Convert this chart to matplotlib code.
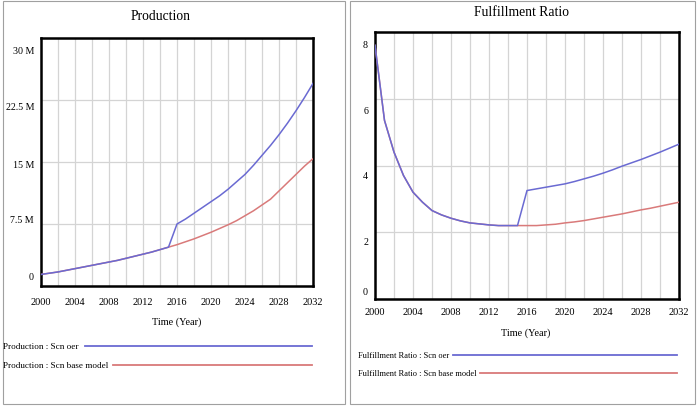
import matplotlib
matplotlib.use("Agg")
import matplotlib.pyplot as plt
from matplotlib.lines import Line2D
from matplotlib.patches import Rectangle

years = list(range(2000, 2033))

# Production (millions)
prod_oer = [1.4, 1.55, 1.7, 1.9, 2.1, 2.3, 2.5, 2.7, 2.9, 3.1, 3.35, 3.6, 3.85, 4.1, 4.4, 4.7,
            7.5, 8.1, 8.8, 9.5, 10.2, 10.9, 11.7, 12.6, 13.5, 14.6, 15.8, 17.0, 18.3, 19.7, 21.2, 22.8, 24.5]
prod_base = [1.4, 1.55, 1.7, 1.9, 2.1, 2.3, 2.5, 2.7, 2.9, 3.1, 3.35, 3.6, 3.85, 4.1, 4.4, 4.7,
             5.0, 5.35, 5.7, 6.1, 6.5, 6.95, 7.4, 7.9, 8.5, 9.1, 9.8, 10.5, 11.5, 12.5, 13.5, 14.5, 15.4]

# Fulfillment ratio
ful_oer = [7.6, 5.35, 4.4, 3.7, 3.2, 2.9, 2.65, 2.52, 2.42, 2.34, 2.28, 2.25, 2.22, 2.2, 2.2, 2.2,
           3.25, 3.3, 3.35, 3.4, 3.45, 3.52, 3.6, 3.68, 3.77, 3.87, 3.98, 4.08, 4.18, 4.29, 4.4, 4.52, 4.64]
ful_base = [7.6, 5.35, 4.4, 3.7, 3.2, 2.9, 2.65, 2.52, 2.42, 2.34, 2.28, 2.25, 2.22, 2.2, 2.2, 2.2,
            2.2, 2.2, 2.22, 2.24, 2.28, 2.31, 2.35, 2.4, 2.45, 2.5, 2.55, 2.61, 2.67, 2.72, 2.78, 2.84, 2.9]

xticks = [2000, 2004, 2008, 2012, 2016, 2020, 2024, 2028, 2032]
prod_yticks = [0, 7.5, 15, 22.5, 30]
prod_ylabels = ["0", "7.5 M", "15 M", "22.5 M", "30 M"]
ful_yticks = [0, 2, 4, 6, 8]
ful_ylabels = ["0", "2", "4", "6", "8"]

BLUE = "#6a6ad2"
RED = "#d97a7a"
FONT = "Liberation Serif"
W, H = 699, 410

plt.rcParams['font.family'] = [FONT, 'DejaVu Serif']
fig = plt.figure(figsize=(6.99, 4.10), dpi=100)


def fx(px):
    return px / W


def fy(py):
    return 1 - py / H


def make_panel(box, xs, s1, s2, yt, ylab, ymax, title, title_xy, lab_pos, xtick_y, xlabel_xy,
               leg, ylab_x, legfs):
    l, t, r, b = box
    ax = fig.add_axes([fx(l), fy(b), fx(r) - fx(l), fy(t) - fy(b)])
    ax.plot(xs, s2, color=RED, lw=1.1, zorder=3)
    ax.plot(xs, s1, color=BLUE, lw=1.1, zorder=4)
    ax.set_xlim(2000, 2032)
    ax.set_ylim(0, ymax)
    ax.set_xticks(list(range(2000, 2033, 2)))
    ax.set_yticks(yt)
    ax.grid(True, color="#d4d4d4", lw=0.9)
    ax.tick_params(length=0, labelbottom=False, labelleft=False)
    for sp in ax.spines.values():
        sp.set_linewidth(1.8)
        sp.set_color("black")
    for lab, py in zip(ylab, lab_pos):
        fig.text(fx(ylab_x), fy(py), lab, ha="right", va="center", fontsize=7.2, family=FONT)
    for xt in xticks:
        xp = l + (xt - 2000) / 32 * (r - l)
        fig.text(fx(xp), fy(xtick_y), str(xt), ha="center", va="center", fontsize=7.4, family=FONT)
    fig.text(fx(title_xy[0]), fy(title_xy[1]), title, ha="center", va="center", fontsize=9.8, family=FONT)
    fig.text(fx(xlabel_xy[0]), fy(xlabel_xy[1]), "Time (Year)", ha="center", va="center", fontsize=7.4, family=FONT)
    for (txt, tx, ty, x0, x1, c) in leg:
        fig.text(fx(tx), fy(ty), txt, ha="left", va="center", fontsize=legfs, family=FONT)
        fig.add_artist(Line2D([fx(x0), fx(x1)], [fy(ty), fy(ty)], color=c, lw=1.3))
    return ax


make_panel((41, 39, 313, 287), years, prod_oer, prod_base, prod_yticks, prod_ylabels, 30,
           "Production", (161, 17), [278, 221, 165, 108, 52], 303, (177, 322),
           [("Production : Scn oer", 3, 347, 85, 312, BLUE),
            ("Production : Scn base model", 3, 366, 113, 312, RED)], 34, 6.6)

make_panel((375, 33, 679, 300), years, ful_oer, ful_base, ful_yticks, ful_ylabels, 8,
           "Fulfillment Ratio", (521, 13), [293, 243, 177, 112, 45], 313, (526, 333),
           [("Fulfillment Ratio : Scn oer", 358, 356, 453, 677, BLUE),
            ("Fulfillment Ratio : Scn base model", 358, 374, 480, 677, RED)], 368, 6.0)

# panel frames
for (x0, y0, x1, y1) in [(3, 2, 345, 405), (350, 2, 695, 405)]:
    fig.add_artist(Rectangle((fx(x0), fy(y1)), fx(x1) - fx(x0), fy(y0) - fy(y1),
                             fill=False, edgecolor="#a0a0a0", lw=0.8))

fig.savefig("out.png", dpi=100)
